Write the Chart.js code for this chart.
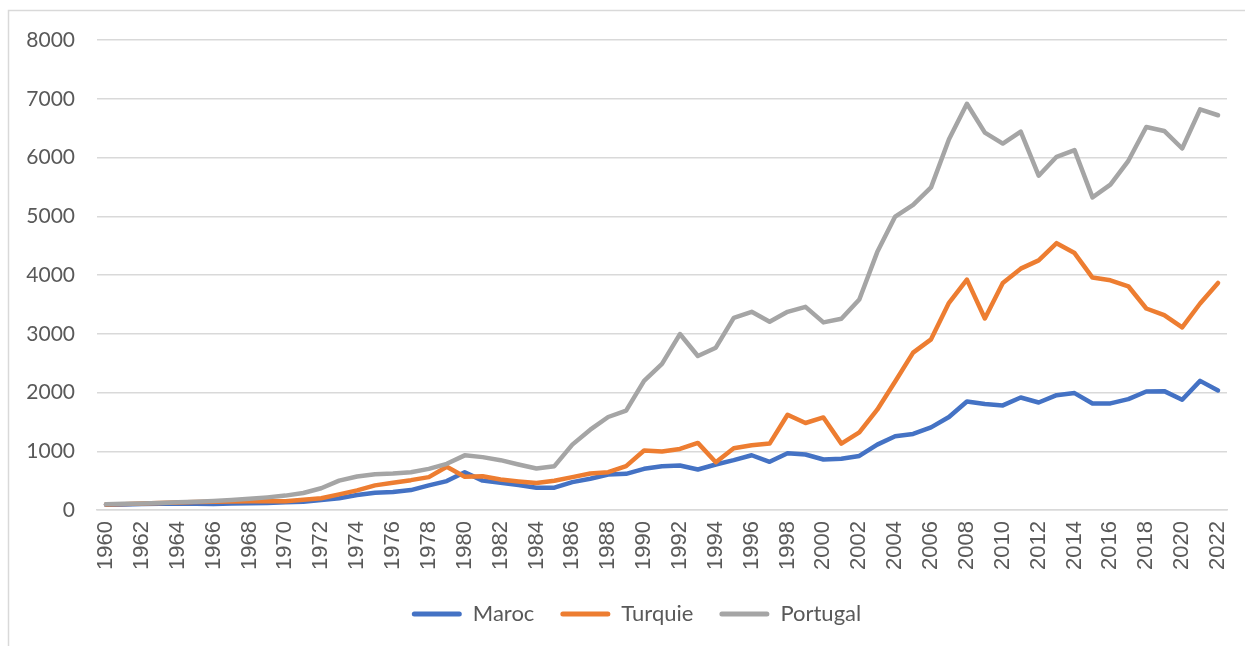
<!DOCTYPE html>
<html>
<head>
<meta charset="utf-8">
<script src="https://cdn.jsdelivr.net/npm/chart.js@4.4.1/dist/chart.umd.min.js"></script>
<style>
  html, body { margin: 0; padding: 0; background: #fff; }
  #wrap { position: relative; width: 1245px; height: 646px; }
</style>
</head>
<body>
<div id="wrap"><canvas id="chart"></canvas></div>
<script>
const years = [];
for (let y = 1960; y <= 2022; y++) years.push(String(y));

const maroc = [
  90, 95, 100, 105, 110, 105, 100, 110, 115, 120,
  130, 140, 170, 200, 254, 295, 305, 339, 419, 492,
  644, 500, 464, 424, 380, 380, 474, 532, 605, 616,
  701, 746, 757, 690, 774, 848, 932, 820, 965, 944,
  859, 871, 920, 1113, 1254, 1295, 1407, 1583, 1848, 1803,
  1780, 1915, 1830, 1955, 1990, 1814, 1814, 1888, 2017, 2023,
  1876, 2198, 2034
];
const turquie = [
  95, 100, 110, 120, 128, 135, 140, 145, 150, 155,
  150, 175, 200, 266, 334, 419, 464, 508, 560, 735,
  566, 575, 520, 486, 458, 498, 559, 622, 644, 746,
  1012, 995, 1040, 1142, 814, 1051, 1102, 1130, 1622, 1481,
  1576, 1130, 1322, 1707, 2186, 2678, 2905, 3526, 3922, 3260,
  3865, 4108, 4249, 4542, 4373, 3956, 3910, 3808, 3430, 3317,
  3108, 3515, 3865
];
const portugal = [
  100, 105, 112, 120, 130, 140, 155, 170, 190, 215,
  245, 290, 370, 500, 570, 610, 620, 644, 700, 786,
  930, 900, 848, 774, 706, 746, 1113, 1367, 1583, 1690,
  2198, 2486, 2995, 2622, 2763, 3271, 3373, 3203, 3373, 3458,
  3193, 3255, 3583, 4390, 4995, 5193, 5492, 6312, 6915, 6424,
  6237, 6441, 5690, 6012, 6125, 5322, 5537, 5944, 6520, 6452,
  6153, 6820, 6719
];

const grey = '#595959';

// white background + light frame around the chart
const frame = {
  id: 'frame',
  beforeDraw(chart) {
    const ctx = chart.ctx;
    ctx.save();
    ctx.fillStyle = '#fff';
    ctx.fillRect(0, 0, chart.width, chart.height);
    ctx.strokeStyle = '#d9d9d9';
    ctx.lineWidth = 1.5;
    ctx.strokeRect(8.5, 10.5, 1400, 800);
    ctx.restore();
  }
};

// the legend sits a bit right of the canvas centre
const legendShift = {
  id: 'legendShift',
  afterLayout(chart) {
    chart.legend.left += 23;
    chart.legend.right += 23;
  }
};

function line(label, data, color, order) {
  return {
    label: label,
    data: data,
    borderColor: color,
    backgroundColor: color,
    borderWidth: 4.5,
    pointRadius: 0,
    tension: 0,
    borderCapStyle: 'round',
    borderJoinStyle: 'round',
    order: order
  };
}

new Chart(document.getElementById('chart'), {
  type: 'line',
  data: {
    labels: years,
    datasets: [
      line('Maroc', maroc, '#4472C4', 2),
      line('Turquie', turquie, '#ED7D31', 1),
      line('Portugal', portugal, '#A5A5A5', 0)
    ]
  },
  plugins: [frame, legendShift],
  options: {
    responsive: true,
    maintainAspectRatio: false,
    animation: false,
    layout: { padding: { top: 40, right: 18, left: 0, bottom: 11 } },
    plugins: {
      tooltip: { enabled: false },
      legend: {
        position: 'bottom',
        labels: {
          font: { family: 'Lato', size: 22 },
          color: grey,
          boxWidth: 50,
          boxHeight: 5,
          padding: 26,
          useBorderRadius: true,
          borderRadius: 2.5,
          sort: (a, b) => a.datasetIndex - b.datasetIndex,
          generateLabels(chart) {
            const items = Chart.defaults.plugins.legend.labels.generateLabels(chart);
            return items.map(it => Object.assign(it, {
              lineWidth: 0,
              fillStyle: it.strokeStyle
            }));
          }
        }
      }
    },
    scales: {
      x: {
        offset: true,
        grid: { display: false, drawTicks: false },
        border: { color: '#d9d9d9', width: 1.5 },
        afterFit(s) { s.height = 67; s.paddingLeft = 0; s.paddingRight = 0; },
        ticks: {
          autoSkip: false,
          maxRotation: 90,
          minRotation: 90,
          padding: 11,
          color: grey,
          font: { family: 'Liberation Sans', size: 22 },
          callback(v, i) { return i % 2 === 0 ? this.getLabelForValue(v) : ''; }
        }
      },
      y: {
        min: 0,
        max: 8000,
        afterFit(s) { s.width = 97; },
        border: { display: false },
        grid: { color: '#d9d9d9', lineWidth: 1.5, drawTicks: false },
        ticks: {
          stepSize: 1000,
          padding: 22,
          color: grey,
          font: { family: 'Lato', size: 21 },
          callback: v => String(v)
        }
      }
    }
  }
});
</script>
</body>
</html>
